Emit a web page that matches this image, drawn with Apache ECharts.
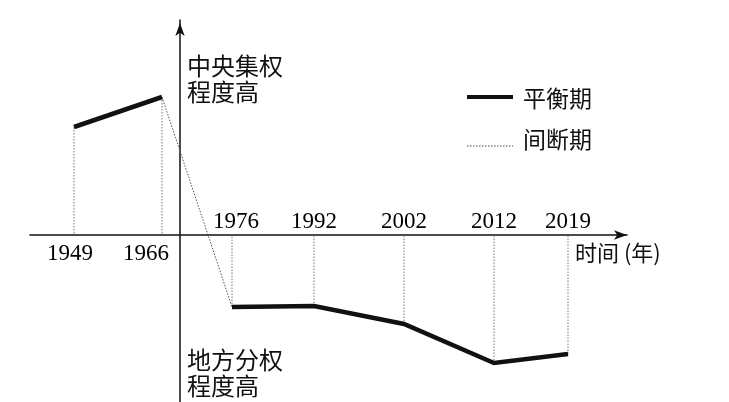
<!DOCTYPE html>
<html>
<head>
<meta charset="utf-8">
<script src="https://cdn.jsdelivr.net/npm/echarts@6/dist/echarts.min.js"></script>
<style>html,body{margin:0;padding:0;background:#fff}#c{width:729px;height:402px}</style>
</head>
<body>
<div id="c"></div>
<script>
// Schematic data
var years = ['1949', '1966', '1976', '1992', '2002', '2012', '2019'];
// schematic horizontal positions (0 = vertical axis)
var xPos = [-10.6, -1.8, 5.2, 13.4, 22.4, 31.4, 38.8];
// degree level: positive = central power high, negative = local power high
var level = [10.8, 13.8, -7.2, -7.1, -8.9, -12.8, -11.9];
// whether each year label sits above (true) or below (false) the time axis
var labelAbove = [false, false, true, true, true, true, true];
var stableA = [0, 1];          // 1949-1966 balanced period
var stableB = [2, 3, 4, 5, 6]; // 1976-2019 balanced period
var breakSeg = [1, 2];         // 1966-1976 punctuation period

var CJK = '"Noto Sans CJK SC", sans-serif';
var SERIF = '"Liberation Serif", "DejaVu Serif", serif';

function pts(idx) { return idx.map(function (i) { return [xPos[i], level[i]]; }); }

var series = [];
series.push({
  type: 'line', data: pts(stableA), symbol: 'none', silent: true,
  lineStyle: { color: '#111', width: 4.5, cap: 'butt' }, z: 5
});
series.push({
  type: 'line', data: pts(stableB), symbol: 'none', silent: true,
  lineStyle: { color: '#111', width: 4.5, cap: 'butt', join: 'miter' }, z: 5
});
series.push({
  type: 'line', data: pts(breakSeg), symbol: 'none', silent: true,
  lineStyle: { color: '#555', width: 1, type: [1.5, 1.5] }, z: 3
});
// vertical drop lines
for (var i = 0; i < years.length; i++) {
  series.push({
    type: 'line', data: [[xPos[i], level[i]], [xPos[i], 0]], symbol: 'none', silent: true,
    lineStyle: { color: '#777', width: 1, type: [1.5, 1.5] }, z: 2
  });
}
// year labels
series.push({
  type: 'scatter', symbolSize: 0, silent: true, itemStyle: { color: '#000', opacity: 1 },
  data: years.map(function (y, i) {
    return {
      value: [xPos[i], 0],
      label: {
        show: true, formatter: y,
        position: labelAbove[i] ? 'top' : 'bottom',
        distance: labelAbove[i] ? 2 : 7,
        offset: [i === 1 ? -16 : (i === 0 ? -4 : (i === 2 ? 4 : 0)), 0],
        fontFamily: SERIF, fontSize: 23, color: '#000', opacity: 1
      }
    };
  })
});

var chart = echarts.init(document.getElementById('c'));
chart.setOption({
  animation: false,
  backgroundColor: '#fff',
  grid: { left: 30, right: 102, top: 20, bottom: 0, containLabel: false },
  xAxis: {
    type: 'value', min: -15, max: 44.7,
    axisLine: { onZero: true, symbol: ['none', 'arrow'], symbolSize: [7, 13], symbolOffset: [0, 0],
      lineStyle: { color: '#111', width: 1.5 } },
    axisTick: { show: false }, axisLabel: { show: false }, splitLine: { show: false }
  },
  yAxis: {
    type: 'value', min: -16.7, max: 21.5,
    axisLine: { show: true, onZero: true, symbol: ['none', 'arrow'], symbolSize: [7, 13], symbolOffset: [0, -3],
      lineStyle: { color: '#111', width: 1.5 } },
    axisTick: { show: false }, axisLabel: { show: false }, splitLine: { show: false }
  },
  series: series,
  graphic: [
    { type: 'text', left: 187, top: 53, style: { text: '中央集权\n程度高', font: '24px ' + CJK, fill: '#111', lineHeight: 26 } },
    { type: 'text', left: 187, top: 347, style: { text: '地方分权\n程度高', font: '24px ' + CJK, fill: '#111', lineHeight: 26 } },
    { type: 'text', left: 575, top: 242, style: { text: '时间 (年)', font: '22px ' + CJK, fill: '#111' } },
    { type: 'line', shape: { x1: 467, y1: 97, x2: 513, y2: 97 }, style: { stroke: '#111', lineWidth: 4 } },
    { type: 'text', left: 523, top: 87, style: { text: '平衡期', font: '23px ' + CJK, fill: '#111' } },
    { type: 'line', shape: { x1: 467, y1: 146, x2: 513, y2: 146 }, style: { stroke: '#444', lineWidth: 1, lineDash: [1.5, 1.5] } },
    { type: 'text', left: 523, top: 128, style: { text: '间断期', font: '23px ' + CJK, fill: '#111' } }
  ]
});
</script>
</body>
</html>
